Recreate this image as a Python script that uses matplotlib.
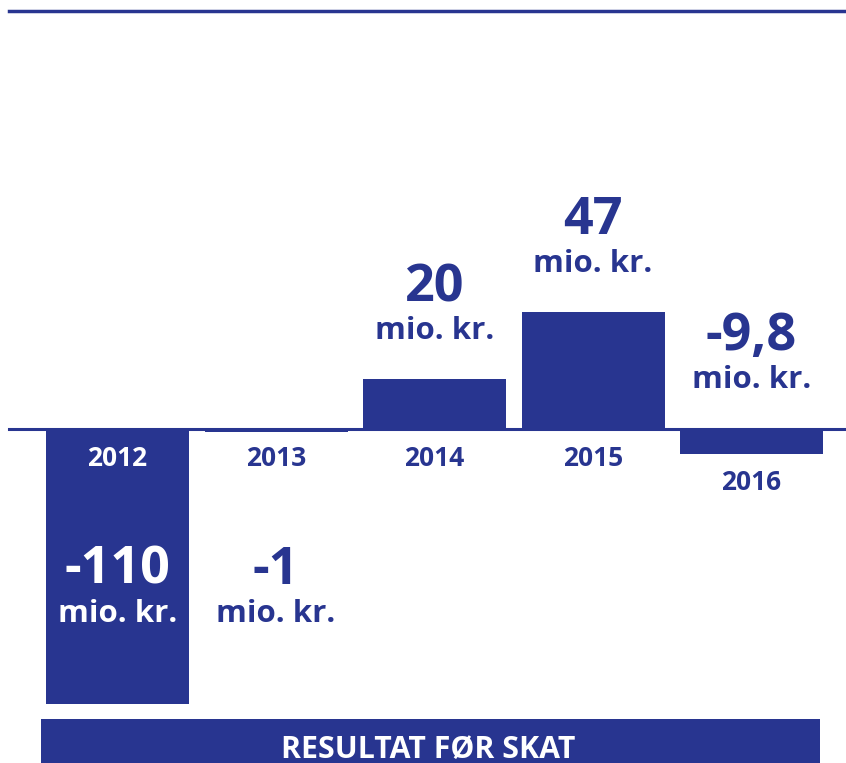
import matplotlib.pyplot as plt
from matplotlib.patches import Rectangle

years = ["2012", "2013", "2014", "2015", "2016"]
values = [-110, -1, 20, 47, -9.8]
value_labels = ["-110", "-1", "20", "47", "-9,8"]
unit = "mio. kr."
title = "RESULTAT FØR SKAT"

navy = "#283590"
W, H = 846, 763
px_per_unit = 2.5     # vertical scale
zero_px = 429         # zero line, pixels from top
slot = 158.5          # pixels between bar centres
first_centre = 117.5

plt.rcParams['font.family'] = ['Open Sans', 'DejaVu Sans']

fig = plt.figure(figsize=(W / 100, H / 100), dpi=100)
ax = fig.add_axes([0, 0, 1, 1])
ax.set_xlim(-first_centre / slot, (W - first_centre) / slot)
ax.set_ylim(-(H - zero_px) / px_per_unit, zero_px / px_per_unit)
ax.axis("off")

x = list(range(len(years)))
ax.bar(x, values, width=143 / slot, color=navy, zorder=2)
ax.axhline(0, xmin=9 / W, xmax=1, color=navy, lw=2.2, zorder=3)

# top rule
fig.add_artist(plt.Line2D([9 / W, 1], [1 - 11 / H] * 2, color=navy, lw=2.5,
                          transform=fig.transFigure))

for i, (yr, v, lab) in enumerate(zip(years, values, value_labels)):
    big_neg = v < -50
    # year label
    anchor = v if -20 < v < -5 else 0
    ax.annotate(yr, (i, anchor), xytext=(0, -37), textcoords="offset pixels",
                ha="center", va="baseline", fontsize=19, fontweight="bold",
                color="white" if big_neg else navy, zorder=4)
    # value label
    if v > 0:
        ref, dy1, dy2 = v, 77, 40
    elif v > -5 or big_neg:
        ref, dy1, dy2 = 0, -155, -193
    else:
        ref, dy1, dy2 = 0, 79, 41
    col = "white" if big_neg else navy
    ax.annotate(lab, (i, ref), xytext=(0, dy1), textcoords="offset pixels",
                ha="center", va="baseline", fontsize=37.5, fontweight="bold",
                color=col, zorder=4)
    ax.annotate(unit, (i, ref), xytext=(0, dy2), textcoords="offset pixels",
                ha="center", va="baseline", fontsize=22.5, fontweight="bold",
                color=col, zorder=4)

# bottom banner
fig.add_artist(Rectangle((41 / W, 0), (820 - 41) / W, 44 / H, color=navy,
                         transform=fig.transFigure, lw=0))
fig.text(428.5 / W, 1 - 758 / H, title, ha="center", va="baseline",
         fontsize=21.8, fontweight="bold", color="white")

fig.savefig("out.png", dpi=100)
